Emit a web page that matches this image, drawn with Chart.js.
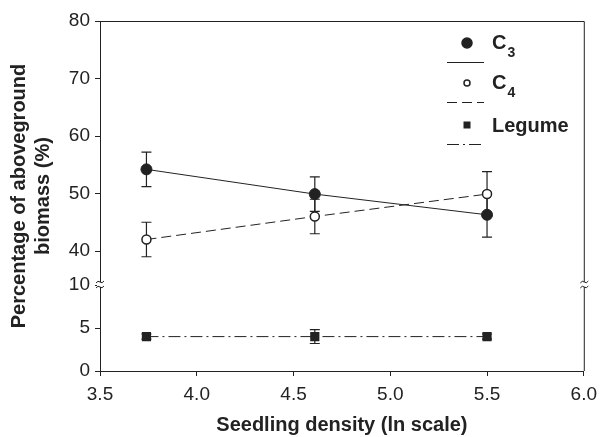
<!DOCTYPE html>
<html>
<head>
<meta charset="utf-8">
<script src="https://cdn.jsdelivr.net/npm/chart.js@4.4.1/dist/chart.umd.min.js"></script>
<style>
  html, body { margin: 0; padding: 0; background: #fff; }
</style>
</head>
<body>
<canvas id="chart" width="604" height="437"></canvas>
<script>
// Data
const density = [3.74, 4.61, 5.5];
const c3Mean = [54.2, 49.9, 46.3];
const c3Err = [3.0, 3.0, 3.9];
const c4Mean = [42.0, 46.0, 49.9];
const c4Err = [3.0, 3.0, 3.9];
const legumeMean = [4.0, 4.0, 4.0];
const legumeErr = [0.3, 0.8, 0.3];
const seriesNames = ['C3', 'C4', 'Legume'];

const xTicks = [3.5, 4.0, 4.5, 5.0, 5.5, 6.0];
const upperTicks = [40, 50, 60, 70, 80];
const lowerTicks = [0, 5, 10];

const INK = '#222';
const FONT = "'Liberation Sans', Arial, Helvetica, sans-serif";

const toPoints = (ys) => ys.map((y, i) => ({ x: density[i], y: y }));

// vertical error bars with caps, drawn under the markers
const errorBars = {
    id: 'errorBars',
    beforeDatasetsDraw(chart) {
        const ctx = chart.ctx;
        ctx.save();
        ctx.strokeStyle = INK;
        ctx.lineWidth = 1.2;
        chart.data.datasets.forEach((ds) => {
            const xs = chart.scales.x;
            const ys = chart.scales[ds.yAxisID];
            ds.data.forEach((p, i) => {
                const e = ds.errors[i];
                const px = xs.getPixelForValue(p.x);
                const top = ys.getPixelForValue(p.y + e);
                const bot = ys.getPixelForValue(p.y - e);
                ctx.beginPath();
                ctx.moveTo(px, top); ctx.lineTo(px, bot);
                ctx.moveTo(px - 5, top); ctx.lineTo(px + 5, top);
                ctx.moveTo(px - 5, bot); ctx.lineTo(px + 5, bot);
                ctx.stroke();
            });
        });
        ctx.restore();
    }
};

// top/right frame lines and the axis break marks
const frame = {
    id: 'frame',
    afterDraw(chart) {
        const { ctx, chartArea } = chart;
        const yb = chart.scales.yLower.getPixelForValue(10);
        ctx.save();
        ctx.strokeStyle = INK;
        ctx.lineWidth = 1;
        ctx.beginPath();
        ctx.moveTo(chartArea.left, chartArea.top + 0.5);
        ctx.lineTo(chartArea.right + 0.5, chartArea.top + 0.5);
        ctx.lineTo(chartArea.right + 0.5, chartArea.bottom);
        ctx.stroke();
        [chartArea.left, chartArea.right + 0.5].forEach(x => {
            ctx.fillStyle = '#fff';
            ctx.fillRect(x - 3, yb - 3, 6, 5);
            ctx.beginPath();
            ctx.moveTo(x - 4, yb - 2);
            ctx.quadraticCurveTo(x - 2, yb - 5, x, yb - 3);
            ctx.quadraticCurveTo(x + 2, yb - 1, x + 4, yb - 4);
            ctx.moveTo(x - 4, yb + 3);
            ctx.quadraticCurveTo(x - 2, yb, x, yb + 2);
            ctx.quadraticCurveTo(x + 2, yb + 4, x + 4, yb + 1);
            ctx.stroke();
        });
        ctx.restore();
    }
};

// legend: marker above a line sample, label to the right
const legendBox = {
    id: 'legendBox',
    afterDraw(chart) {
        const ctx = chart.ctx;
        const x0 = 447, x1 = 484, mx = 467, tx = 492;
        const rows = [43, 83, 125];
        ctx.save();
        chart.data.datasets.forEach((ds, i) => {
            const my = rows[i];
            // marker
            ctx.lineWidth = 1.5;
            ctx.strokeStyle = INK;
            ctx.fillStyle = ds.pointBackgroundColor;
            ctx.beginPath();
            if (ds.pointStyle === 'rect') {
                ctx.fillStyle = INK;
                ctx.fillRect(mx - 3.5, my - 3.5, 7, 7);
            } else {
                ctx.arc(mx, my, ds.legendRadius, 0, Math.PI * 2);
                ctx.fill();
                ctx.stroke();
            }
            // line sample
            ctx.lineWidth = 1;
            ctx.setLineDash(ds.borderDash || []);
            ctx.beginPath();
            ctx.moveTo(x0, my + 19.5);
            ctx.lineTo(x1, my + 19.5);
            ctx.stroke();
            ctx.setLineDash([]);
            // label, digit as subscript
            ctx.fillStyle = INK;
            ctx.textBaseline = 'alphabetic';
            const name = seriesNames[i];
            const m = name.match(/^([A-Z])(\d)$/);
            if (m) {
                ctx.font = 'bold 20px ' + FONT;
                ctx.fillText(m[1], tx, my + 6);
                const w = ctx.measureText(m[1]).width;
                ctx.font = 'bold 14px ' + FONT;
                ctx.fillText(m[2], tx + w + 1, my + 14);
            } else {
                ctx.font = 'bold 20px ' + FONT;
                ctx.fillText(name, tx, my + 7);
            }
        });
        ctx.restore();
    }
};

const tickFont = { family: FONT, size: 19 };
const titleFont = { family: FONT, size: 20, weight: 'bold' };

new Chart(document.getElementById('chart'), {
    type: 'line',
    data: {
        datasets: [
            {
                label: seriesNames[0],
                data: toPoints(c3Mean),
                errors: c3Err,
                yAxisID: 'yUpper',
                borderColor: INK,
                borderWidth: 1,
                pointStyle: 'circle',
                pointRadius: 5.5,
                legendRadius: 5,
                pointBackgroundColor: INK,
                pointBorderColor: INK,
                pointBorderWidth: 1
            },
            {
                label: seriesNames[1],
                data: toPoints(c4Mean),
                errors: c4Err,
                yAxisID: 'yUpper',
                borderColor: INK,
                borderWidth: 1,
                borderDash: [10, 5],
                pointStyle: 'circle',
                pointRadius: 4.5,
                legendRadius: 3,
                pointBackgroundColor: '#fff',
                pointBorderColor: INK,
                pointBorderWidth: 1.5
            },
            {
                label: seriesNames[2],
                data: toPoints(legumeMean),
                errors: legumeErr,
                yAxisID: 'yLower',
                borderColor: INK,
                borderWidth: 1,
                borderDash: [12, 4, 2, 4],
                pointStyle: 'rect',
                pointRadius: 6.5,
                pointBackgroundColor: INK,
                pointBorderColor: INK,
                pointBorderWidth: 0
            }
        ]
    },
    options: {
        responsive: false,
        animation: false,
        layout: { padding: { top: 21, right: 17, bottom: 0, left: 0 } },
        plugins: {
            legend: { display: false },
            tooltip: { enabled: false }
        },
        scales: {
            x: {
                type: 'linear',
                min: 3.5,
                max: 6.0,
                afterBuildTicks: (axis) => { axis.ticks = xTicks.map(v => ({ value: v })); },
                afterFit: (axis) => { axis.height = 66; },
                grid: { drawOnChartArea: false, tickLength: 5, color: INK },
                border: { color: INK, width: 1 },
                ticks: { font: tickFont, color: INK, padding: 7, maxRotation: 0, autoSkip: false,
                         callback: (v) => Number(v).toFixed(1) },
                title: { display: true, text: 'Seedling density (ln scale)', font: titleFont,
                         color: INK, padding: { top: 0, bottom: 0 } }
            },
            yLower: {
                type: 'linear',
                position: 'left',
                stack: 'y',
                stackWeight: 86,
                min: 0,
                max: 10,
                afterBuildTicks: (axis) => { axis.ticks = lowerTicks.map(v => ({ value: v })); },
                afterFit: (axis) => { axis.width = 44; },
                grid: { drawOnChartArea: false, tickLength: 5, color: INK },
                border: { color: INK, width: 1 },
                ticks: { font: tickFont, color: INK, padding: 5, autoSkip: false }
            },
            yUpper: {
                type: 'linear',
                position: 'left',
                stack: 'y',
                stackWeight: 264,
                min: 34.09,
                max: 80,
                afterBuildTicks: (axis) => { axis.ticks = upperTicks.map(v => ({ value: v })); },
                afterFit: (axis) => { axis.width = 44; },
                grid: { drawOnChartArea: false, tickLength: 5, color: INK },
                border: { color: INK, width: 1 },
                ticks: { font: tickFont, color: INK, padding: 5, autoSkip: false }
            },
            yTitle: {
                type: 'linear',
                position: 'left',
                weight: 10,
                min: 0,
                max: 1,
                afterFit: (axis) => { axis.width = 56; },
                grid: { display: false },
                border: { display: false },
                ticks: { display: false },
                title: { display: true, text: ['Percentage of aboveground', 'biomass (%)'],
                         font: titleFont, color: INK, padding: { top: 7, bottom: 0 } }
            }
        }
    },
    plugins: [errorBars, frame, legendBox]
});
</script>
</body>
</html>
